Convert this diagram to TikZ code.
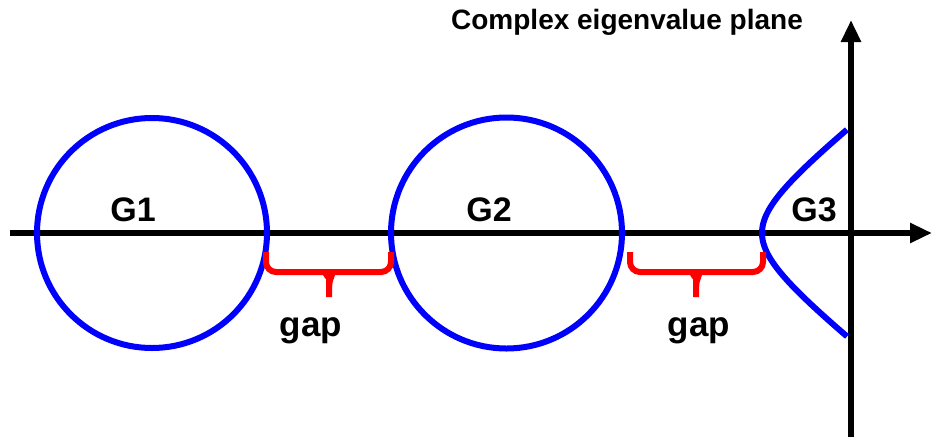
\documentclass[tikz,border=0pt]{standalone}
\usepackage{fontspec}
\setmainfont{Liberation Sans}
\usepackage{tikz}
\usetikzlibrary{arrows.meta}
\definecolor{discblue}{HTML}{0000FF}
\definecolor{gapred}{HTML}{FF0000}
\tikzset{
  axisline/.style={line width=6pt, draw=black, -{Triangle[length=22pt,width=19pt]}},
  disc/.style={line width=6pt, draw=discblue},
  gapbrace/.style={line width=6pt, draw=gapred, rounded corners=10pt},
  disclabel/.style={anchor=base, font=\fontsize{34}{40}\selectfont\bfseries},
  gaplabel/.style={anchor=base, font=\fontsize{35}{40}\selectfont\bfseries},
  titlelabel/.style={anchor=base, font=\fontsize{28}{32}\selectfont\bfseries}
}

\begin{document}
\begin{tikzpicture}[x=1pt, y=-1pt]
\useasboundingbox (0,0) rectangle (932,440);

% axes
\coordinate (realstart) at (10,233);
\coordinate (realend) at (932,233);
\coordinate (imagstart) at (851,437);
\coordinate (imagend) at (851,20);
\draw[axisline] (realstart) -- (realend);
\draw[axisline] (imagstart) -- (imagend);

% Gershgorin groups
\coordinate (c1) at (152,233);
\coordinate (c2) at (506.5,233);
\draw[disc] (c1) circle[radius=115];
\draw[disc] (c2) circle[radius=115.5];
\draw[disc] plot[domain=-1.53:1.53, samples=60, smooth, variable=\t]
  ({762+60*(cosh(\t)-1)}, {233-47*sinh(\t)});

% gaps
\draw[gapbrace] (266,252) |- (316,272) to[out=0,in=90] (329,287) -- (329,295);
\draw[gapbrace] (329,287) to[out=90,in=180] (342,272) -| (391,252);
\draw[gapbrace] (630,252) |- (683,272) to[out=0,in=90] (696,287) -- (696,295);
\draw[gapbrace] (696,287) to[out=90,in=180] (709,272) -| (763,252);

% labels
\node[disclabel] (g1) at (133,221) {G1};
\node[disclabel] (g2) at (489,221) {G2};
\node[disclabel] (g3) at (814,221) {G3};
\node[gaplabel] (gap1) at (311,336) {gap};
\node[gaplabel] (gap2) at (699,336) {gap};
\node[titlelabel] (title) at (627,29) {Complex eigenvalue plane};
\end{tikzpicture}
\end{document}
